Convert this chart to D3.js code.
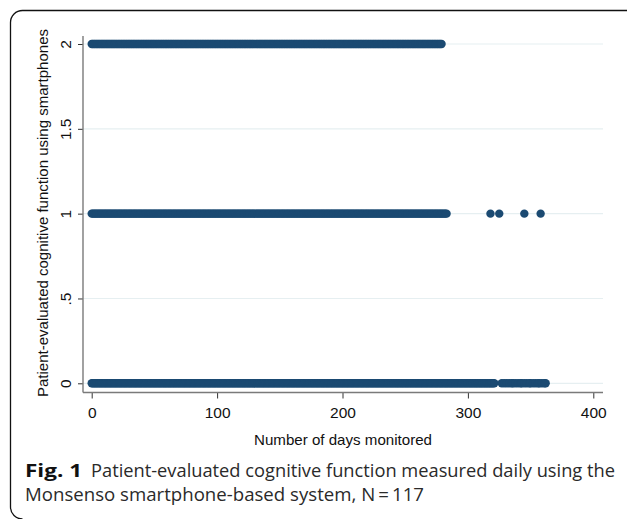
<!DOCTYPE html>
<html>
<head>
<meta charset="utf-8">
<script src="https://cdn.jsdelivr.net/npm/d3@7"></script>
<style>
html,body{margin:0;padding:0;background:#fff;}
svg{display:block;}
</style>
</head>
<body>
<svg id="chart" width="627" height="519"></svg>
<script>
// ---- Data (days on which each score level was recorded) ----
const levels = [2, 1, 0];
const daysLevel2 = [
0,1,2,3,4,5,6,7,8,9,10,11,12,13,14,15,16,17,18,19,
20,21,22,23,24,25,26,27,28,29,30,31,32,33,34,35,36,37,38,39,
40,41,42,43,44,45,46,47,48,49,50,51,52,53,54,55,56,57,58,59,
60,61,62,63,64,65,66,67,68,69,70,71,72,73,74,75,76,77,78,79,
80,81,82,83,84,85,86,87,88,89,90,91,92,93,94,95,96,97,98,99,
100,101,102,103,104,105,106,107,108,109,110,111,112,113,114,115,116,117,118,119,
120,121,122,123,124,125,126,127,128,129,130,131,132,133,134,135,136,137,138,139,
140,141,142,143,144,145,146,147,148,149,150,151,152,153,154,155,156,157,158,159,
160,161,162,163,164,165,166,167,168,169,170,171,172,173,174,175,176,177,178,179,
180,181,182,183,184,185,186,187,188,189,190,191,192,193,194,195,196,197,198,199,
200,201,202,203,204,205,206,207,208,209,210,211,212,213,214,215,216,217,218,219,
220,221,222,223,224,225,226,227,228,229,230,231,232,233,234,235,236,237,238,239,
240,241,242,243,244,245,246,247,248,249,250,251,252,253,254,255,256,257,258,259,
260,261,262,263,264,265,266,267,268,269,270,271,272,273,274,275,276,277,278,279
];
const daysLevel1 = [
0,1,2,3,4,5,6,7,8,9,10,11,12,13,14,15,16,17,18,19,
20,21,22,23,24,25,26,27,28,29,30,31,32,33,34,35,36,37,38,39,
40,41,42,43,44,45,46,47,48,49,50,51,52,53,54,55,56,57,58,59,
60,61,62,63,64,65,66,67,68,69,70,71,72,73,74,75,76,77,78,79,
80,81,82,83,84,85,86,87,88,89,90,91,92,93,94,95,96,97,98,99,
100,101,102,103,104,105,106,107,108,109,110,111,112,113,114,115,116,117,118,119,
120,121,122,123,124,125,126,127,128,129,130,131,132,133,134,135,136,137,138,139,
140,141,142,143,144,145,146,147,148,149,150,151,152,153,154,155,156,157,158,159,
160,161,162,163,164,165,166,167,168,169,170,171,172,173,174,175,176,177,178,179,
180,181,182,183,184,185,186,187,188,189,190,191,192,193,194,195,196,197,198,199,
200,201,202,203,204,205,206,207,208,209,210,211,212,213,214,215,216,217,218,219,
220,221,222,223,224,225,226,227,228,229,230,231,232,233,234,235,236,237,238,239,
240,241,242,243,244,245,246,247,248,249,250,251,252,253,254,255,256,257,258,259,
260,261,262,263,264,265,266,267,268,269,270,271,272,273,274,275,276,277,278,279,
280,281,282,283,
318,325,345,358
];
const daysLevel0 = [
0,1,2,3,4,5,6,7,8,9,10,11,12,13,14,15,16,17,18,19,
20,21,22,23,24,25,26,27,28,29,30,31,32,33,34,35,36,37,38,39,
40,41,42,43,44,45,46,47,48,49,50,51,52,53,54,55,56,57,58,59,
60,61,62,63,64,65,66,67,68,69,70,71,72,73,74,75,76,77,78,79,
80,81,82,83,84,85,86,87,88,89,90,91,92,93,94,95,96,97,98,99,
100,101,102,103,104,105,106,107,108,109,110,111,112,113,114,115,116,117,118,119,
120,121,122,123,124,125,126,127,128,129,130,131,132,133,134,135,136,137,138,139,
140,141,142,143,144,145,146,147,148,149,150,151,152,153,154,155,156,157,158,159,
160,161,162,163,164,165,166,167,168,169,170,171,172,173,174,175,176,177,178,179,
180,181,182,183,184,185,186,187,188,189,190,191,192,193,194,195,196,197,198,199,
200,201,202,203,204,205,206,207,208,209,210,211,212,213,214,215,216,217,218,219,
220,221,222,223,224,225,226,227,228,229,230,231,232,233,234,235,236,237,238,239,
240,241,242,243,244,245,246,247,248,249,250,251,252,253,254,255,256,257,258,259,
260,261,262,263,264,265,266,267,268,269,270,271,272,273,274,275,276,277,278,279,
280,281,282,283,284,285,286,287,288,289,290,291,292,293,294,295,296,297,298,299,
300,301,302,303,304,305,306,307,308,309,310,311,312,313,314,315,316,317,318,319,
320,321,
327,329,331,333,335,336,338,340,342,343,345,347,349,350,352,354,356,357,359,361,362
];
const yTickValues = [0, 0.5, 1, 1.5, 2];
const yTickLabels = ["0", ".5", "1", "1.5", "2"];
const xTickValues = [0, 100, 200, 300, 400];
const xTickLabels = ["0", "100", "200", "300", "400"];
const yTitle = "Patient-evaluated cognitive function using smartphones";
const xTitle = "Number of days monitored";
const captionBold = "Fig. 1";
const captionLine1 = "Patient-evaluated cognitive function measured daily using the";
const captionLine2 = "Monsenso smartphone-based system, N\u2009=\u2009117";

// ---- Layout ----
const dotColor = "#1b4a72";
const svg = d3.select("#chart");
const x = d3.scaleLinear().domain([0, 400]).range([91.7, 593.3]);
const y = d3.scaleLinear().domain([0, 2]).range([383.3, 44]);
const plotLeft = 83, plotRight = 603, plotTop = 36, plotBottom = 392.5;
const axisFont = "'Liberation Sans', Arial, sans-serif";

// frame
svg.append("path")
  .attr("d", "M627,10.5 H22.5 A12,12 0 0 0 10.5,22.5 V507 A12,12 0 0 0 22.5,519")
  .attr("fill", "none").attr("stroke", "#111").attr("stroke-width", 1.3);

// gridlines
svg.append("g").selectAll("line").data(yTickValues).join("line")
  .attr("x1", plotLeft).attr("x2", plotRight)
  .attr("y1", d => y(d)).attr("y2", d => y(d))
  .attr("stroke", "#e6eff1").attr("stroke-width", 1.2);

// points
const series = [
  {level: levels[0], days: daysLevel2},
  {level: levels[1], days: daysLevel1},
  {level: levels[2], days: daysLevel0}
];
const pts = series.flatMap(s => s.days.map(d => ({day: d, level: s.level})));
svg.append("g").selectAll("circle").data(pts).join("circle")
  .attr("cx", d => x(d.day)).attr("cy", d => y(d.level))
  .attr("r", 4.2).attr("fill", dotColor);

// y axis
const gy = svg.append("g").attr("transform", `translate(${plotLeft},0)`)
  .call(d3.axisLeft(y).tickValues(yTickValues)
    .tickFormat((d, i) => yTickLabels[i]).tickSize(5).tickSizeOuter(0));
gy.select(".domain").remove();
gy.selectAll(".tick line").attr("stroke", "#333");
gy.selectAll(".tick text")
  .attr("transform", "rotate(-90)").attr("x", 0).attr("y", -12.5).attr("dy", 0)
  .attr("text-anchor", "middle").attr("fill", "#111")
  .style("font-family", axisFont).style("font-size", "15.5px");
svg.append("line").attr("x1", plotLeft).attr("x2", plotLeft)
  .attr("y1", plotTop).attr("y2", plotBottom)
  .attr("stroke", "#7a7a7a").attr("stroke-width", 1.4);

// x axis
const gx = svg.append("g").attr("transform", `translate(0,${plotBottom})`)
  .call(d3.axisBottom(x).tickValues(xTickValues)
    .tickFormat((d, i) => xTickLabels[i]).tickSize(6).tickSizeOuter(0));
gx.select(".domain").remove();
gx.selectAll(".tick line").attr("stroke", "#333");
gx.selectAll(".tick text").attr("y", 25).attr("dy", 0).attr("fill", "#111")
  .style("font-family", axisFont).style("font-size", "15.5px");
svg.append("line").attr("x1", plotLeft).attr("x2", plotRight)
  .attr("y1", plotBottom).attr("y2", plotBottom)
  .attr("stroke", "#7a7a7a").attr("stroke-width", 1.4);

// axis titles
svg.append("text").text(yTitle)
  .attr("transform", "translate(48,213) rotate(-90)")
  .attr("text-anchor", "middle").attr("fill", "#111")
  .attr("textLength", 368).attr("lengthAdjust", "spacingAndGlyphs")
  .style("font-family", axisFont).style("font-size", "15px");
svg.append("text").text(xTitle)
  .attr("x", 343).attr("y", 445).attr("text-anchor", "middle").attr("fill", "#111")
  .attr("textLength", 178).attr("lengthAdjust", "spacingAndGlyphs")
  .style("font-family", axisFont).style("font-size", "15px");

// caption
const capFont = "'Open Sans', 'Noto Sans', sans-serif";
svg.append("text").text(captionBold)
  .attr("x", 25).attr("y", 477).attr("fill", "#111")
  .attr("textLength", 57).attr("lengthAdjust", "spacingAndGlyphs")
  .style("font-family", capFont).style("font-size", "17.5px").style("font-weight", "bold");
svg.append("text").text(captionLine1)
  .attr("x", 91).attr("y", 477).attr("fill", "#2a2a2a")
  .attr("textLength", 524).attr("lengthAdjust", "spacingAndGlyphs")
  .style("font-family", capFont).style("font-size", "17.5px");
svg.append("text").text(captionLine2)
  .attr("x", 25).attr("y", 501).attr("fill", "#2a2a2a")
  .attr("textLength", 399).attr("lengthAdjust", "spacingAndGlyphs")
  .style("font-family", capFont).style("font-size", "17.5px");
</script>
</body>
</html>
